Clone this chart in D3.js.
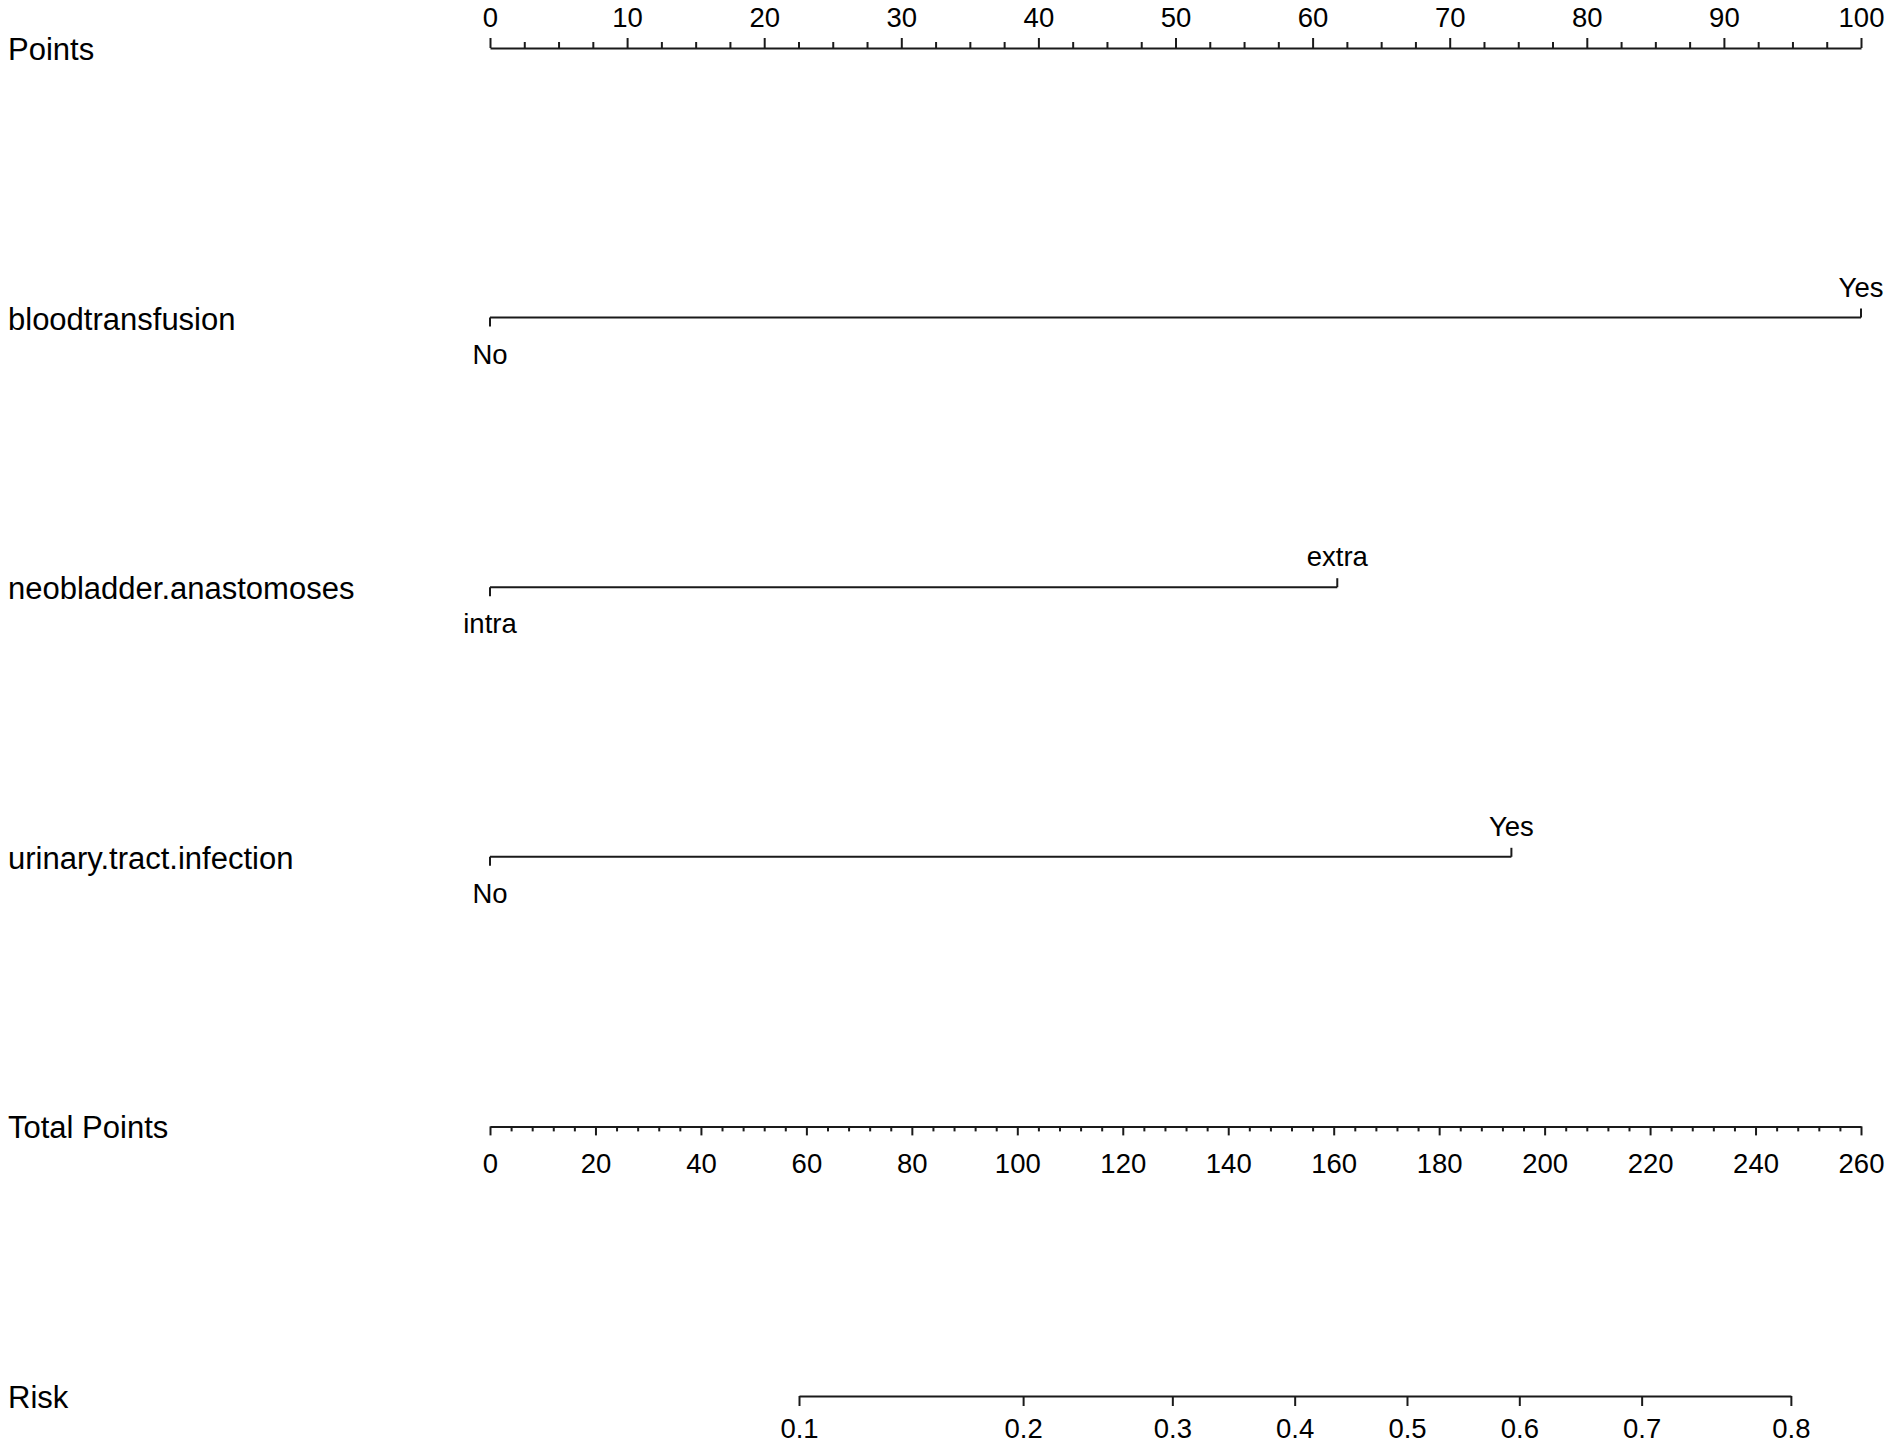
<!DOCTYPE html>
<html>
<head>
<meta charset="utf-8">
<script src="https://cdn.jsdelivr.net/npm/d3@7"></script>
<style>
  html, body { margin: 0; padding: 0; background: #fff; }
  svg { display: block; }
  text { font-family: "Liberation Sans", Arial, sans-serif; fill: #000; }
</style>
</head>
<body>
<svg id="chart" width="1890" height="1449"></svg>
<script>
// ---- data ----
const pointTicks = [0, 10, 20, 30, 40, 50, 60, 70, 80, 90, 100];
const pointMinorStep = 2.5;
const variableNames = ["bloodtransfusion", "neobladder.anastomoses", "urinary.tract.infection"];
const levelLabels = [["No", "Yes"], ["intra", "extra"], ["No", "Yes"]];
const levelPoints = [[0, 100], [0, 61.8], [0, 74.5]];
const totalTicks = [0, 20, 40, 60, 80, 100, 120, 140, 160, 180, 200, 220, 240, 260];
const totalMinorStep = 4;
const riskLabels = ["0.1", "0.2", "0.3", "0.4", "0.5", "0.6", "0.7", "0.8"];
const riskAtTotalPoints = [58.6, 101.1, 129.4, 152.6, 173.9, 195.2, 218.4, 246.7];

// ---- layout ----
const W = 1890, H = 1449;
const x0 = 490, x1 = 1861;
const nameX = 8;
const rowY = d3.scaleLinear().domain([0, 5]).range([48, 1396]);
const nameSize = 31, tickSize = 27.5;
const stroke = "#1a1a1a", sw = 2;

const svg = d3.select("#chart");
svg.append("rect").attr("width", W).attr("height", H).attr("fill", "#fff");

const xPts = d3.scaleLinear().domain([0, 100]).range([x0, x1]);
const xTot = d3.scaleLinear().domain([0, 260]).range([x0, x1]);

function styleAxis(g) {
  g.selectAll("path.domain").attr("stroke", stroke).attr("stroke-width", sw);
  g.selectAll(".tick line").attr("stroke", stroke).attr("stroke-width", sw);
  g.selectAll(".tick text").attr("font-size", tickSize)
    .attr("font-family", '"Liberation Sans", Arial, sans-serif').attr("fill", "#000");
}

function name(label, y) {
  svg.append("text").attr("x", nameX).attr("y", y + 12)
    .attr("font-size", nameSize).text(label);
}

// ---- Points axis (top) ----
{
  const y = rowY(0);
  name("Points", y);
  const minor = d3.range(0, 100 + 1e-9, pointMinorStep).filter(v => !pointTicks.includes(v));
  const gMinor = svg.append("g").attr("transform", `translate(0,${y})`)
    .call(d3.axisTop(xPts).tickValues(minor).tickSize(6).tickSizeOuter(0).tickFormat(""));
  styleAxis(gMinor);
  const gMajor = svg.append("g").attr("transform", `translate(0,${y})`)
    .call(d3.axisTop(xPts).tickValues(pointTicks).tickSize(10).tickSizeOuter(0).tickPadding(11).tickFormat(d3.format("d")));
  styleAxis(gMajor);
  gMajor.select("path.domain").remove();
}

// ---- variable rows ----
variableNames.forEach((v, i) => {
  const y = rowY(i + 1);
  name(v, y);
  const pts = levelPoints[i];
  const g = svg.append("g");
  g.append("line")
    .attr("x1", xPts(d3.min(pts))).attr("x2", xPts(d3.max(pts)))
    .attr("y1", y).attr("y2", y)
    .attr("stroke", stroke).attr("stroke-width", sw);
  pts.forEach((p, j) => {
    const below = j % 2 === 0;
    const dir = below ? 1 : -1;
    g.append("line")
      .attr("x1", xPts(p)).attr("x2", xPts(p))
      .attr("y1", y).attr("y2", y + dir * 9)
      .attr("stroke", stroke).attr("stroke-width", sw);
    g.append("text")
      .attr("x", xPts(p))
      .attr("y", below ? y + 46 : y - 21)
      .attr("text-anchor", "middle")
      .attr("font-size", tickSize)
      .text(levelLabels[i][j]);
  });
});

// ---- Total Points axis ----
{
  const y = rowY(4);
  name("Total Points", y);
  const minor = d3.range(0, 260 + 1e-9, totalMinorStep).filter(v => !totalTicks.includes(v));
  const gMinor = svg.append("g").attr("transform", `translate(0,${y})`)
    .call(d3.axisBottom(xTot).tickValues(minor).tickSize(5).tickSizeOuter(0).tickFormat(""));
  styleAxis(gMinor);
  const gMajor = svg.append("g").attr("transform", `translate(0,${y})`)
    .call(d3.axisBottom(xTot).tickValues(totalTicks).tickSize(9).tickSizeOuter(0).tickPadding(18).tickFormat(d3.format("d")));
  styleAxis(gMajor);
  gMajor.select("path.domain").remove();
}

// ---- Risk axis ----
{
  const y = rowY(5);
  name("Risk", y);
  const xRisk = d3.scaleLinear()
    .domain([d3.min(riskAtTotalPoints), d3.max(riskAtTotalPoints)])
    .range([xTot(d3.min(riskAtTotalPoints)), xTot(d3.max(riskAtTotalPoints))]);
  const g = svg.append("g").attr("transform", `translate(0,${y})`)
    .call(d3.axisBottom(xRisk).tickValues(riskAtTotalPoints).tickSize(10).tickSizeOuter(0).tickPadding(12)
      .tickFormat((d, k) => riskLabels[k]));
  styleAxis(g);
}
</script>
</body>
</html>
